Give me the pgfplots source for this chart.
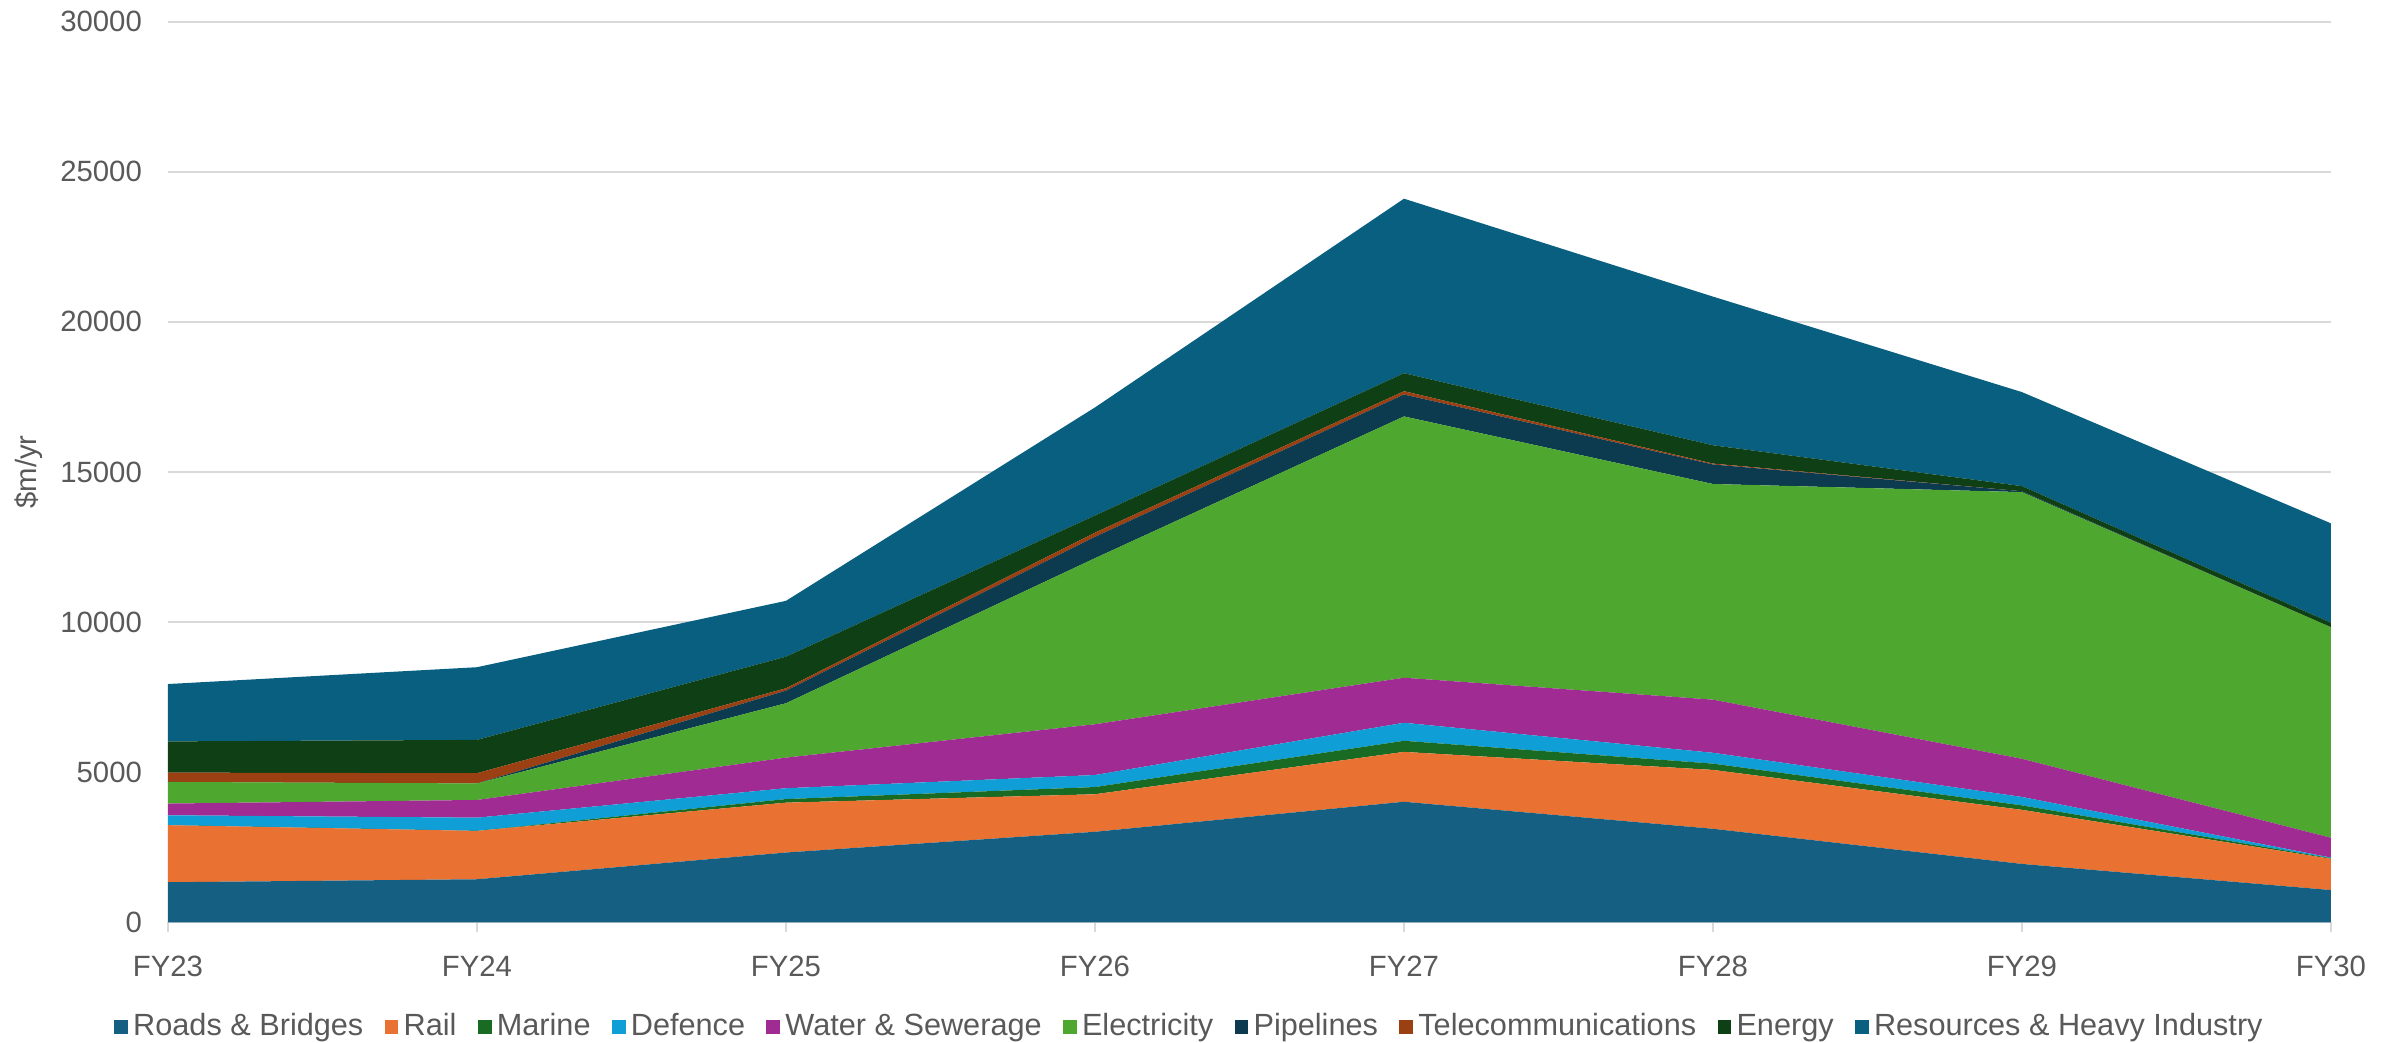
\documentclass[border=0pt]{standalone}
\usepackage{pgfplots}
\pgfplotsset{compat=1.18}
\usepackage{pgfplotstable}
\usepackage{fontspec}
\setmainfont{Liberation Sans}
\definecolor{roads}{HTML}{156082}
\definecolor{rail}{HTML}{E97132}
\definecolor{marine}{HTML}{196B24}
\definecolor{defence}{HTML}{0F9ED5}
\definecolor{water}{HTML}{A02B93}
\definecolor{elec}{HTML}{4EA72E}
\definecolor{pipe}{HTML}{0C3A4E}
\definecolor{tele}{HTML}{9A4012}
\definecolor{energy}{HTML}{0F4015}
\definecolor{res}{HTML}{095F80}
\definecolor{txt}{HTML}{595959}
\definecolor{gridc}{HTML}{D9D9D9}
\pgfplotstableread{
x Roads Rail Marine Defence Water Elec Pipe Tel Energy Res
0 1340 1900 0 330 390 720 0 310 1040 1910
1 1440 1610 0 440 590 550 0 340 1110 2420
2 2330 1660 120 360 1020 1810 420 80 1050 1860
3 3020 1250 240 400 1690 5530 710 140 570 3600
4 4020 1660 370 600 1500 8700 730 110 600 5810
5 3120 1960 210 360 1770 7180 650 30 610 4950
6 1950 1800 150 280 1270 8880 30 0 170 3130
7 1080 1040 20 20 660 7010 0 0 150 3310
}\data
\begin{document}
\begin{tikzpicture}
\path[use as bounding box] (-50.4pt,-36.15pt) rectangle (668.1pt,276.75pt);
\begin{axis}[
  at={(0,0)}, anchor=south west,
  scale only axis,
  width=648.9pt, height=270.3pt,
  stack plots=y,
  xmin=0, xmax=7, ymin=0, ymax=30000,
  xtick={0,...,7},
  xticklabels={FY23,FY24,FY25,FY26,FY27,FY28,FY29,FY30},
  ytick={0,5000,...,30000},
  axis lines*=left,
  x axis line style={draw=gridc, line width=0.6pt},
  y axis line style={draw=none},
  xtick pos=bottom, tick align=outside,
  major tick length=3pt,
  xtick style={draw=gridc, line width=0.6pt},
  ytick style={draw=none},
  ymajorgrids, grid style={draw=gridc, line width=0.6pt},
  font=\fontsize{8.8}{10.5}\selectfont,
  tick label style={text=txt, font=\fontsize{8.8}{10.5}\selectfont},
  /pgf/number format/assume math mode=true,
  scaled y ticks=false,
  yticklabel={\pgfmathprintnumber[fixed,1000 sep={}]{\tick}},
  yticklabel style={xshift=-1.3pt},
  xticklabel style={yshift=-3.4pt},
  ylabel={\$m/yr},
  ylabel style={text=txt, font=\fontsize{8.8}{10.5}\selectfont, at={(axis description cs:-0.0644,0.5)}, anchor=center},
  legend columns=-1,
  legend style={at={(axis description cs:0.473,-0.116)}, anchor=center, draw=none, fill=none,
    font=\fontsize{9.2}{11}\selectfont, text=txt,
    /tikz/every even column/.append style={column sep=4.8pt},
    nodes={inner xsep=1.6pt}},
  legend image code/.code={\fill[#1,draw=none] (0pt,-2.05pt) rectangle (4.1pt,2.05pt);},
  every axis plot/.append style={draw=none},
]
\addplot[fill=roads] table[x=x,y=Roads]{\data} \closedcycle;
\addlegendentry{Roads \& Bridges}
\addplot[fill=rail] table[x=x,y=Rail]{\data} \closedcycle;
\addlegendentry{Rail}
\addplot[fill=marine] table[x=x,y=Marine]{\data} \closedcycle;
\addlegendentry{Marine}
\addplot[fill=defence] table[x=x,y=Defence]{\data} \closedcycle;
\addlegendentry{Defence}
\addplot[fill=water] table[x=x,y=Water]{\data} \closedcycle;
\addlegendentry{Water \& Sewerage}
\addplot[fill=elec] table[x=x,y=Elec]{\data} \closedcycle;
\addlegendentry{Electricity}
\addplot[fill=pipe] table[x=x,y=Pipe]{\data} \closedcycle;
\addlegendentry{Pipelines}
\addplot[fill=tele] table[x=x,y=Tel]{\data} \closedcycle;
\addlegendentry{Telecommunications}
\addplot[fill=energy] table[x=x,y=Energy]{\data} \closedcycle;
\addlegendentry{Energy}
\addplot[fill=res] table[x=x,y=Res]{\data} \closedcycle;
\addlegendentry{Resources \& Heavy Industry}
\end{axis}
\end{tikzpicture}
\end{document}
